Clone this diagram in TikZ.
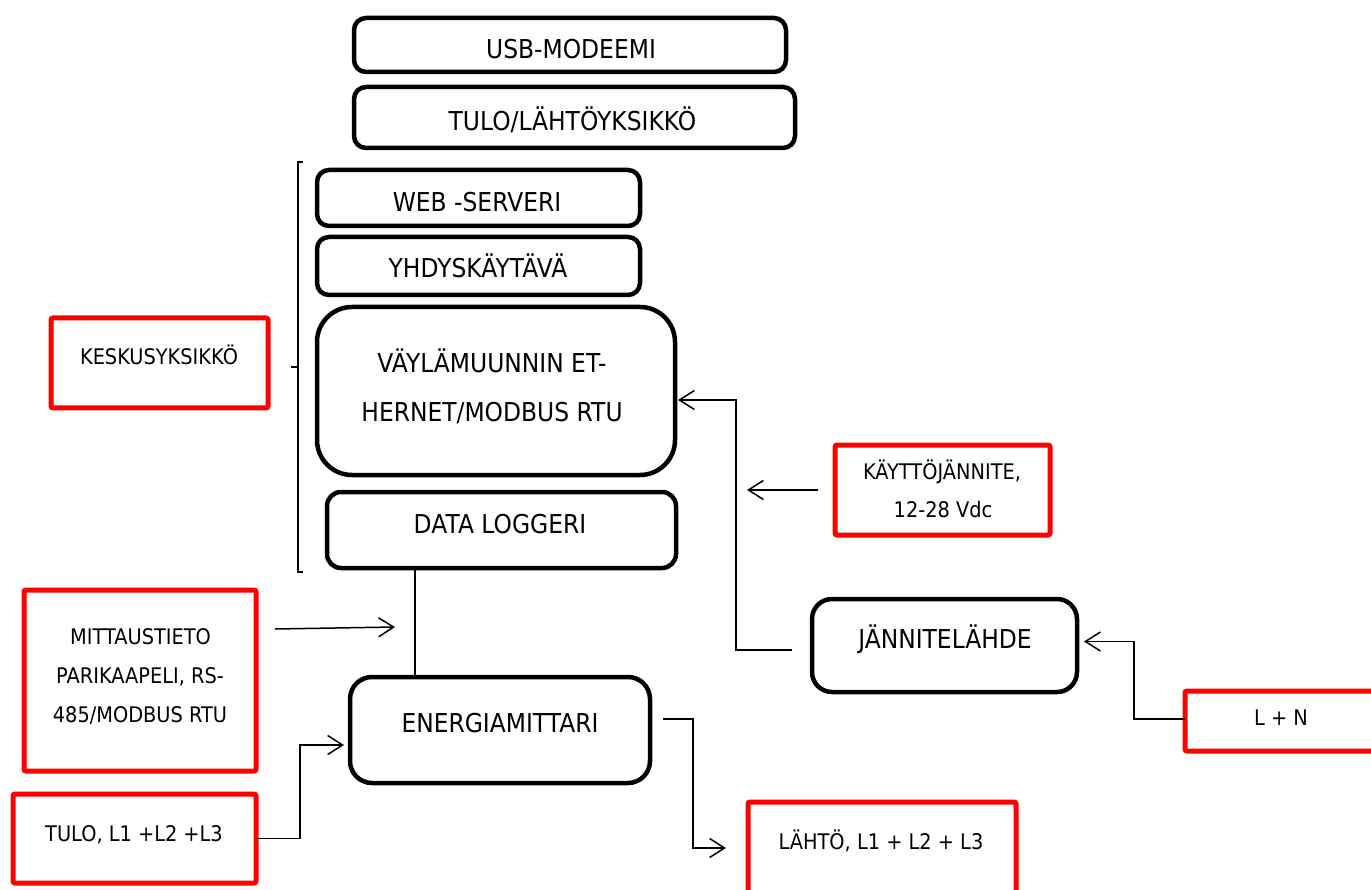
\documentclass[tikz,border=0pt]{standalone}
\usepackage{fontspec}
\setmainfont[FakeStretch=0.9]{DejaVu Sans}
\usetikzlibrary{arrows.meta}
\tikzset{
  bbox/.style={draw=black, line width=4.5pt, rounded corners=12pt, inner sep=0pt, outer sep=0pt},
  rbox/.style={draw=red, line width=5pt, rounded corners=2pt, inner sep=0pt, outer sep=0pt},
  btxt/.style={anchor=base, inner sep=0pt, font=\fontsize{26}{30}\selectfont},
  rtxt/.style={anchor=base, inner sep=0pt, font=\fontsize{21.5}{26}\selectfont},
  conn/.style={line width=1.5pt},
  arr/.style={conn, -{Straight Barb[length=15pt,width=19pt,line width=1.5pt]}},
}
\begin{document}
\begin{tikzpicture}[x=1pt,y=-1pt]
\useasboundingbox (0,0) rectangle (1371,890);
\fill[white] (0,0) rectangle (1371,890);
\clip (0,0) rectangle (1371,890);

% black boxes
\node[bbox, minimum width=432pt, minimum height=54pt] (usb) at (570,45) {};
\node[bbox, minimum width=441pt, minimum height=61pt] (tlo) at (574.5,117.5) {};
\node[bbox, minimum width=323pt, minimum height=56pt] (web) at (478.5,198) {};
\node[bbox, minimum width=323pt, minimum height=58pt] (yhd) at (478.5,266) {};
\node[bbox, rounded corners=35pt, minimum width=358pt, minimum height=168pt] (vay) at (496,391) {};
\node[bbox, rounded corners=14pt, minimum width=349pt, minimum height=76pt] (dlog) at (501.5,530) {};
\node[bbox, rounded corners=22pt, minimum width=300pt, minimum height=106pt] (ener) at (500,730) {};
\node[bbox, rounded corners=20pt, minimum width=265pt, minimum height=93pt] (jann) at (944.5,645.5) {};

% red boxes
\node[rbox, minimum width=217pt, minimum height=90pt] (kesk) at (159.5,363) {};
\node[rbox, minimum width=215pt, minimum height=90pt] (kayt) at (942.5,490) {};
\node[rbox, minimum width=232pt, minimum height=181pt] (mitt) at (140,680.5) {};
\node[rbox, minimum width=243pt, minimum height=89pt] (tulo) at (134.5,838.5) {};
\node[rbox, minimum width=268pt, minimum height=98pt] (laht) at (882,851) {};
\node[rbox, minimum width=195pt, minimum height=60pt] (ln) at (1282.5,721) {};

% texts
\node[btxt] (tusb) at (571,59) {USB-MODEEMI};
\node[btxt] (ttlo) at (572.5,131) {TULO/LÄHTÖYKSIKKÖ};
\node[btxt] (tweb) at (477,212) {WEB -SERVERI};
\node[btxt] (tyhd) at (478,278) {YHDYSKÄYTÄVÄ};
\node[btxt] (tvay1) at (492,373) {VÄYLÄMUUNNIN ET-};
\node[btxt] (tvay2) at (492,422) {HERNET/MODBUS RTU};
\node[btxt] (tdlog) at (500,533) {DATA LOGGERI};
\node[btxt] (tener) at (500,732) {ENERGIAMITTARI};
\node[btxt] (tjann) at (945,648) {JÄNNITELÄHDE};

\node[rtxt] (tkesk) at (159,365) {KESKUSYKSIKKÖ};
\node[rtxt] (tkayt1) at (942,479) {KÄYTTÖJÄNNITE,};
\node[rtxt] (tkayt2) at (943,517) {12-28 Vdc};
\node[rtxt] (tmitt1) at (140.5,644) {MITTAUSTIETO};
\node[rtxt] (tmitt2) at (140,683) {PARIKAAPELI, RS-};
\node[rtxt] (tmitt3) at (140,722) {485/MODBUS RTU};
\node[rtxt] (ttulo) at (134,841) {TULO, L1 +L2 +L3};
\node[rtxt] (tlaht) at (881,849) {LÄHTÖ, L1 + L2 + L3};
\node[rtxt] (tln) at (1281,725) {L + N};

% bracket
\draw[line width=1.2pt] (303,162) -- (298,162) -- (298,572) -- (303,572);
\draw[line width=1.2pt] (298,367) -- (291,367);

% connectors
\coordinate (cx) at (415,0);
\draw[conn] (cx |- dlog.south) -- (cx |- ener.north);

\draw[arr] ([shift={(-20,4.5)}]jann.west) -- ++(-56,0) |- ([shift={(3,9)}]vay.east);

\coordinate (kend) at (747,490);
\draw[arr] ([xshift=-17pt]kayt.west) -- (kend);

\coordinate (mstart) at (275,629);
\coordinate (mend) at (395,627);
\draw[arr] (mstart) -- (mend);

\draw[arr] (tulo.east) -- ++(44,0) |- ([shift={(-6,15)}]ener.west);

\draw[arr] ([shift={(13,-11)}]ener.east) -- ++(30,0) |- ([shift={(-22,-3)}]laht.west);

\draw[arr] ([shift={(0,-2)}]ln.west) -- ++(-51,0) |- ([shift={(7,-4)}]jann.east);
\end{tikzpicture}
\end{document}
